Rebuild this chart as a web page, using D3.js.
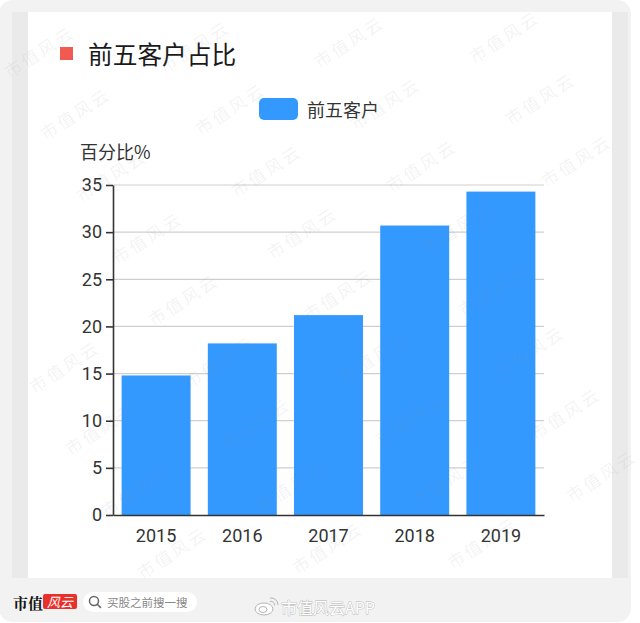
<!DOCTYPE html>
<html><head><meta charset="utf-8">
<script src="https://cdn.jsdelivr.net/npm/d3@7/dist/d3.min.js"></script>
<style>
html,body{margin:0;padding:0;background:#fff;}
svg{display:block;}
</style></head>
<body>
<svg id="c" width="640" height="623"></svg>
<script>
const title = "前五客户占比";
const seriesName = "前五客户";
const yAxisTitle = "百分比%";
const years = ["2015","2016","2017","2018","2019"];
const values = [14.8, 18.2, 21.2, 30.7, 34.3];
const yTicks = [0,5,10,15,20,25,30,35];

const CJK = "'Noto Sans CJK SC','Noto Sans',sans-serif";
const NUM = "Roboto,'Noto Sans CJK SC',sans-serif";
const svg = d3.select("#c");

// frame & card
svg.append("rect").attr("x",-1).attr("y",0).attr("width",632).attr("height",622).attr("rx",14).attr("fill","#f2f2f2");
svg.append("rect").attr("x",12).attr("y",12).attr("width",616).attr("height",566).attr("fill","#eaeaea");
svg.append("rect").attr("x",28).attr("y",12).attr("width",584).attr("height",566).attr("fill","#ffffff");

// title
svg.append("rect").attr("x",60).attr("y",47).attr("width",13).attr("height",13).attr("fill","#f15a50");
svg.append("text").attr("x",88).attr("y",52.5).attr("dominant-baseline","central")
  .style("font-family",CJK).style("font-size","24.7px").attr("fill","#1a1a1a").text(title);

// legend
const color = "#3399ff";
svg.append("rect").attr("x",259).attr("y",98).attr("width",39).attr("height",22).attr("rx",5).attr("fill",color);
svg.append("text").attr("x",307).attr("y",109).attr("dominant-baseline","central")
  .style("font-family",CJK).style("font-size","18px").attr("fill","#333").text(seriesName);

// axis title
svg.append("text").attr("x",80).attr("y",150.5).attr("dominant-baseline","central")
  .style("font-family",CJK).style("font-size","18px").attr("fill","#333").text(yAxisTitle);

const x = d3.scaleBand().domain(years).range([113,544]).paddingInner(0.2).paddingOuter(0.1);
const y = d3.scaleLinear().domain([0,35]).range([515,185]);

// grid
svg.append("g").selectAll("line").data(yTicks.filter(t=>t>0)).join("line")
  .attr("x1",113).attr("x2",544).attr("y1",d=>y(d)).attr("y2",d=>y(d))
  .attr("stroke","#cfcfcf").attr("stroke-width",1.2);

// bars
svg.append("g").selectAll("rect").data(years).join("rect")
  .attr("x",d=>x(d)).attr("width",x.bandwidth())
  .attr("y",(d,i)=>y(values[i])).attr("height",(d,i)=>y(0)-y(values[i]))
  .attr("fill",color);

// axes
const yAxis = svg.append("g").attr("transform","translate(113,0)")
  .call(d3.axisLeft(y).tickValues(yTicks).tickSize(7).tickPadding(4).tickSizeOuter(0));
const xAxis = svg.append("g").attr("transform","translate(0,515)")
  .call(d3.axisBottom(x).tickSize(0).tickPadding(14).tickSizeOuter(0));
[yAxis,xAxis].forEach(g=>{
  g.select(".domain").attr("stroke","#333").attr("stroke-width",1.6);
  g.selectAll(".tick line").attr("stroke","#333").attr("stroke-width",1.6);
  g.selectAll(".tick text").style("font-family",NUM).style("font-size","18px").attr("fill","#333");
});

// watermarks (decorative background pattern)
const wm = svg.append("g").attr("pointer-events","none");
for(let i=-3;i<8;i++){
  for(let j=-4;j<12;j++){
    const cx = 75 + j*36 + i*155;
    const cy = 113 + j*62 - i*5;
    if(cx<38||cx>602||cy<30||cy>593) continue;
    wm.append("text").attr("transform",`translate(${cx},${cy}) rotate(-33)`)
      .attr("text-anchor","middle").attr("dominant-baseline","central")
      .style("font-family",CJK).style("font-size","17px").style("letter-spacing","3px")
      .attr("fill","#8a8a8a").attr("fill-opacity",0.11).text("市值风云");
  }
}

// footer
svg.append("text").attr("x",13).attr("y",602).attr("dominant-baseline","central")
  .style("font-family","'Noto Serif CJK SC','Noto Sans CJK SC',serif").style("font-size","15px").style("font-weight","bold")
  .attr("fill","#111").text("市值");
svg.append("rect").attr("x",43).attr("y",594).attr("width",34).attr("height",15).attr("rx",2).attr("fill","#e8302c");
svg.append("text").attr("x",60).attr("y",601.5).attr("text-anchor","middle").attr("dominant-baseline","central")
  .style("font-family",CJK).style("font-size","13px").style("font-style","italic").attr("fill","#fff").text("风云");
svg.append("rect").attr("x",83).attr("y",592).attr("width",114).attr("height",20).attr("rx",10).attr("fill","#fff");
svg.append("circle").attr("cx",94).attr("cy",601).attr("r",4.5).attr("fill","none").attr("stroke","#666").attr("stroke-width",1.5);
svg.append("line").attr("x1",97.3).attr("y1",604.3).attr("x2",100.5).attr("y2",607.5).attr("stroke","#666").attr("stroke-width",1.6).attr("stroke-linecap","round");
svg.append("text").attr("x",107).attr("y",602).attr("dominant-baseline","central")
  .style("font-family",CJK).style("font-size","11.5px").attr("fill","#888").text("买股之前搜一搜");

// weibo-like mark + app name
const wb = svg.append("g").attr("fill","#fff").attr("stroke","#b5b5b5").attr("stroke-width",1);
wb.append("ellipse").attr("cx",264).attr("cy",609).attr("rx",9).attr("ry",6);
wb.append("ellipse").attr("cx",263).attr("cy",609.5).attr("rx",4).attr("ry",3);
wb.append("path").attr("d","M270,598 a7,7 0 0 1 8,7").attr("fill","none");
wb.append("path").attr("d","M270,601.5 a3.5,3.5 0 0 1 4.5,4").attr("fill","none");
svg.append("text").attr("x",281).attr("y",607).attr("dominant-baseline","central")
  .style("font-family",CJK).style("font-size","16px").attr("fill","#fff")
  .attr("stroke","#b5b5b5").attr("stroke-width",0.8).attr("paint-order","stroke").text("市值风云APP");
</script>
</body></html>
